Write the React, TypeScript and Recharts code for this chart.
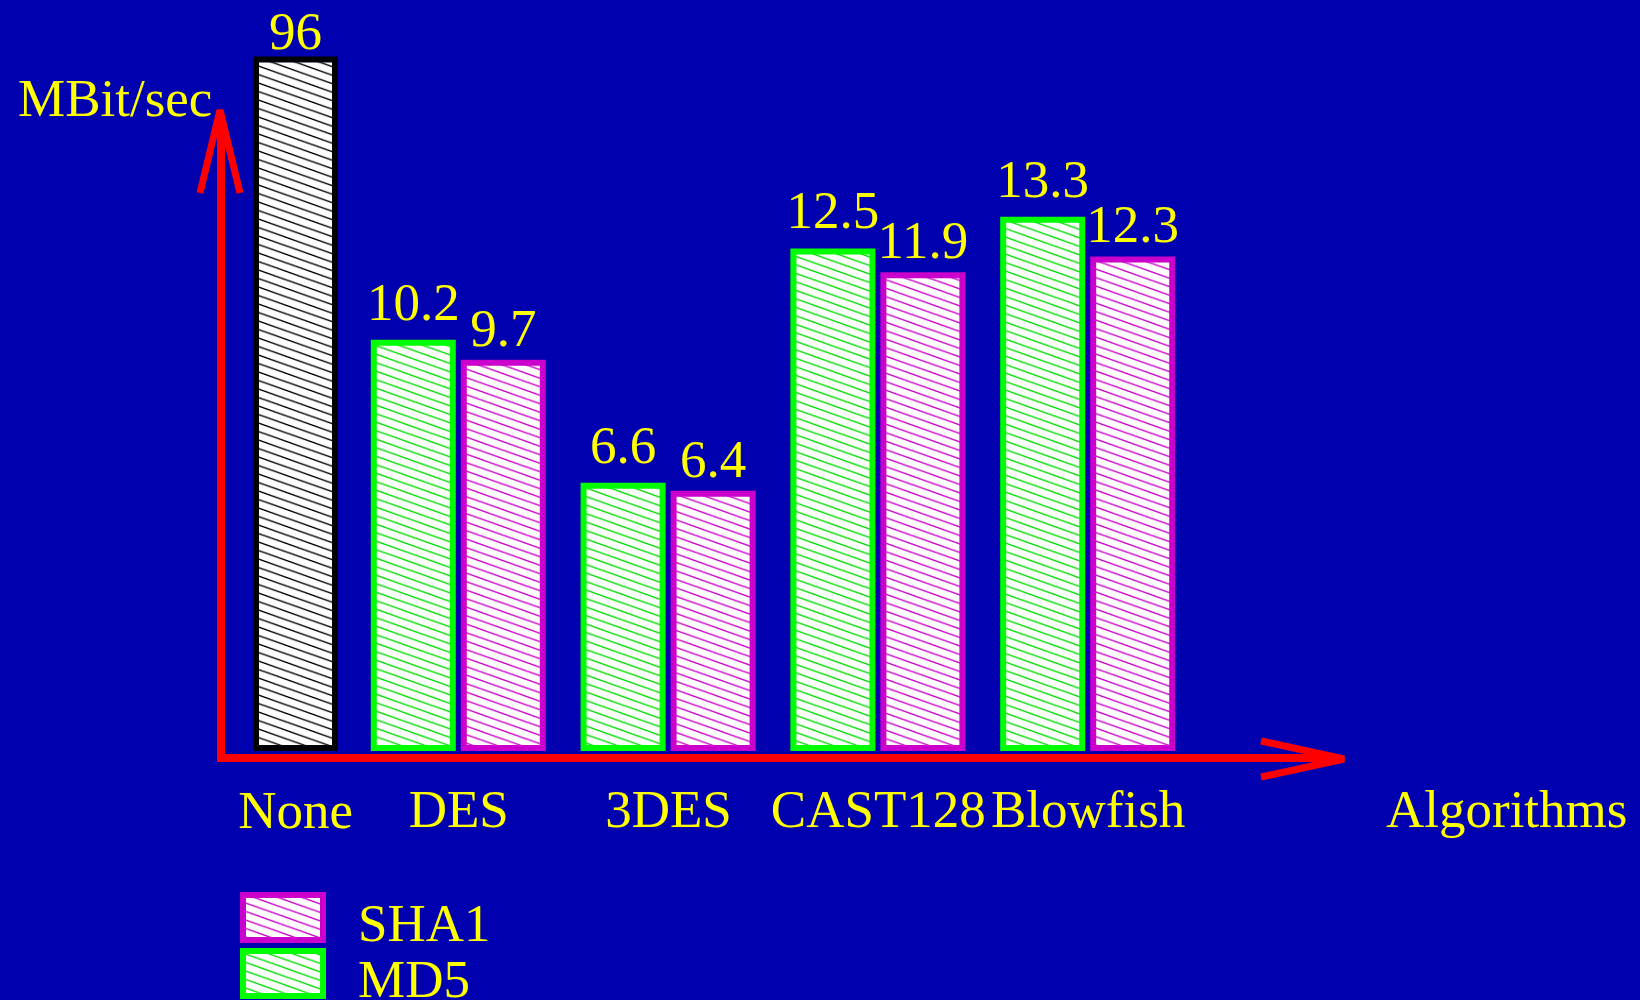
import React from "react";
import { ComposedChart, Bar, XAxis, YAxis, LabelList, Customized } from "recharts";

// throughput per algorithm, MBit/sec
const categories = ["None", "DES", "3DES", "CAST128", "Blowfish"];
const noneValues = [96, null, null, null, null];
const md5Values = [null, 10.2, 6.6, 12.5, 13.3];
const sha1Values = [null, 9.7, 6.4, 11.9, 12.3];
const legendOrder = ["sha1", "md5"];

const seriesNames: Record<string, string> = { none: "None", md5: "MD5", sha1: "SHA1" };
const seriesColors: Record<string, string> = { none: "#000000", md5: "#00FF00", sha1: "#CC00CC" };

const BG = "#0000AF";
const YELLOW = "#FFFF00";
const RED = "#FF0000";
const FONT = "'Liberation Serif', 'Times New Roman', serif";
const FS = 53;

const data = categories.map((name, i) => ({
  name,
  none: noneValues[i],
  md5: md5Values[i],
  sha1: sha1Values[i],
}));

function Hatch({ id, color }: { id: string; color: string }) {
  return (
    <pattern id={id} patternUnits="userSpaceOnUse" width={24} height={8.5}>
      <rect width={24} height={8.5} fill="#ffffff" />
      <path
        d="M0,0 L24,8.5 M0,-8.5 L24,0 M0,8.5 L24,17"
        stroke={color}
        strokeWidth={1.4}
        fill="none"
      />
    </pattern>
  );
}

// hand-drawn axes with open arrow heads, axis titles and the legend
function Decor() {
  return (
    <g>
      <line x1={221} y1={762} x2={221} y2={116} stroke={RED} strokeWidth={8} />
      <polyline points="200,193 220,110 240,193" fill="none" stroke={RED} strokeWidth={7} />
      <line x1={217} y1={758} x2={1336} y2={758} stroke={RED} strokeWidth={8} />
      <polyline points="1261,741 1344,759 1261,777" fill="none" stroke={RED} strokeWidth={7} />
      <text x={18} y={116} fill={YELLOW} fontFamily={FONT} fontSize={FS}>
        MBit/sec
      </text>
      <text x={1386} y={827} fill={YELLOW} fontFamily={FONT} fontSize={FS}>
        Algorithms
      </text>
      {legendOrder.map((key, i) => (
        <g key={key}>
          <rect
            x={243}
            y={895 + i * 56}
            width={80}
            height={45}
            fill={`url(#hatch-${key})`}
            stroke={seriesColors[key]}
            strokeWidth={6}
          />
          <text x={358} y={941 + i * 56} fill={YELLOW} fontFamily={FONT} fontSize={FS}>
            {seriesNames[key]}
          </text>
        </g>
      ))}
    </g>
  );
}

const labelStyle = { fill: YELLOW, fontFamily: FONT, fontSize: FS };
const tickStyle = { fill: YELLOW, fontFamily: FONT, fontSize: FS };

// each axis only names the categories that have bars on it
const mainTick = (v: string) => (md5Values[categories.indexOf(v)] == null ? "" : v);
const noneTick = (v: string) => (noneValues[categories.indexOf(v)] == null ? "" : v);

export default function App() {
  return (
    <div
      style={{
        position: "absolute",
        left: 0,
        top: 0,
        width: 1640,
        height: 1000,
        background: BG,
        overflow: "hidden",
      }}
    >
      <ComposedChart
        width={1640}
        height={1000}
        data={data}
        barGap={11}
        margin={{ top: 33, right: 447, bottom: 250, left: 144 }}
      >
        <defs>
          <Hatch id="hatch-none" color="#000000" />
          <Hatch id="hatch-md5" color="#00DD00" />
          <Hatch id="hatch-sha1" color="#CC00CC" />
        </defs>
        <XAxis
          xAxisId="main"
          dataKey="name"
          axisLine={false}
          tickLine={false}
          tickSize={0}
          tickMargin={41}
          interval={0}
          height={1}
          tickFormatter={mainTick}
          tick={tickStyle}
        />
        <XAxis
          xAxisId="none"
          dataKey="name"
          axisLine={false}
          tickLine={false}
          tickSize={0}
          tickMargin={41}
          interval={0}
          height={1}
          padding={{ left: 52, right: 0 }}
          tickFormatter={noneTick}
          tick={tickStyle}
        />
        <YAxis yAxisId="main" domain={[0, 18]} hide />
        <YAxis yAxisId="none" domain={[0, 99.7]} hide />
        <Bar
          xAxisId="none"
          yAxisId="none"
          dataKey="none"
          name={seriesNames.none}
          barSize={79}
          fill="url(#hatch-none)"
          stroke={seriesColors.none}
          strokeWidth={6}
          isAnimationActive={false}
        >
          <LabelList dataKey="none" position="top" offset={11} style={labelStyle} />
        </Bar>
        <Bar
          xAxisId="main"
          yAxisId="main"
          dataKey="md5"
          name={seriesNames.md5}
          barSize={79}
          fill="url(#hatch-md5)"
          stroke={seriesColors.md5}
          strokeWidth={6}
          isAnimationActive={false}
        >
          <LabelList dataKey="md5" position="top" offset={23} style={labelStyle} />
        </Bar>
        <Bar
          xAxisId="main"
          yAxisId="main"
          dataKey="sha1"
          name={seriesNames.sha1}
          barSize={79}
          fill="url(#hatch-sha1)"
          stroke={seriesColors.sha1}
          strokeWidth={6}
          isAnimationActive={false}
        >
          <LabelList dataKey="sha1" position="top" offset={17} style={labelStyle} />
        </Bar>
        <Customized component={Decor} />
      </ComposedChart>
    </div>
  );
}
